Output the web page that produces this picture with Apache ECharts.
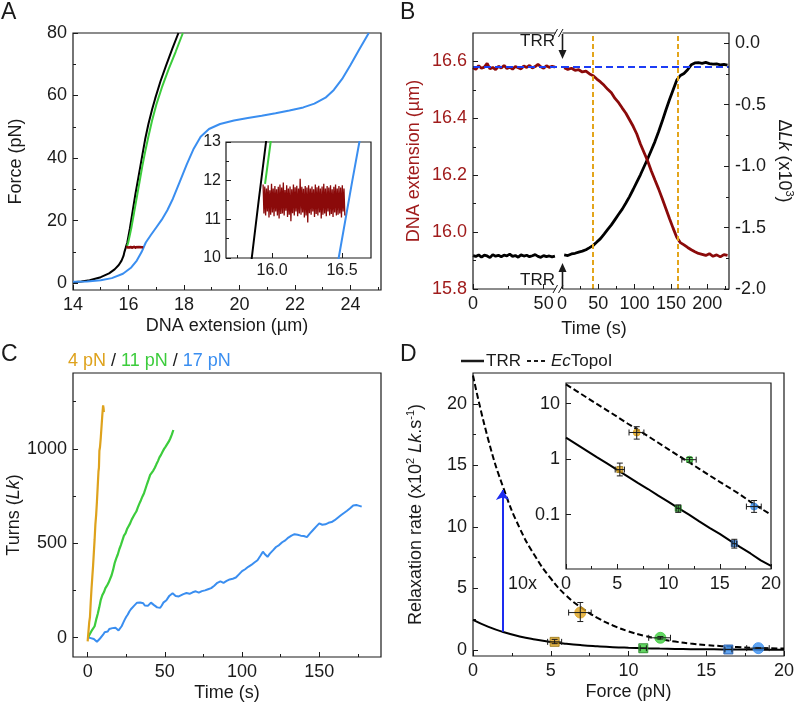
<!DOCTYPE html>
<html>
<head>
<meta charset="utf-8">
<script src="https://cdn.jsdelivr.net/npm/echarts@6/dist/echarts.min.js"></script>
<style>
html, body { margin: 0; padding: 0; background: #fff; }
#chart { width: 794px; height: 702px; }
</style>
</head>
<body>
<div id="chart"></div>
<script>
// ---- A: force / extension curves (x: um, y: pN)
var aBlack = [[14.0,0.3],[14.3,0.5],[14.6,0.9],[15.0,1.9],[15.3,3.1],[15.5,4.4],[15.65,5.8],[15.75,7.2],[15.82,8.7],[15.855,10.0],[15.905,11.5],[15.957,13.0],[16.05,17.5],[16.15,23.0],[16.25,28.5],[16.35,33.5],[16.43,37.5],[16.5,41.0],[16.6,46.0],[16.72,51.0],[16.85,55.5],[16.96,59.0],[17.15,64.5],[17.35,69.5],[17.58,75.0],[17.8,80.0]];
var aGreen = [[15.95,11.92],[15.99,13.0],[16.1,17.5],[16.2,22.5],[16.3,27.5],[16.4,32.5],[16.5,37.5],[16.6,42.0],[16.72,47.0],[16.85,52.0],[17.0,57.0],[17.2,62.5],[17.45,68.5],[17.7,74.0],[17.96,80.0]];
var aBlue = [[14.0,0.4],[14.5,0.5],[15.0,0.9],[15.4,1.6],[15.8,3.0],[16.1,5.0],[16.3,7.2],[16.476,10.0],[16.571,11.95],[16.624,13.0],[16.8,15.3],[17.0,17.8],[17.2,20.3],[17.4,23.3],[17.6,27.0],[17.85,32.5],[18.1,38.0],[18.35,43.0],[18.6,46.8],[18.9,49.3],[19.3,50.9],[19.8,52.0],[20.3,52.8],[20.8,53.5],[21.3,54.3],[21.8,55.2],[22.3,56.2],[22.7,57.4],[23.1,59.3],[23.4,61.8],[23.7,65.3],[24.0,69.8],[24.3,74.5],[24.66,80.0]];
// constant force clamp trace (pN), sampled evenly from redBandStart to redBandEnd
var redBandStart = 15.936, redBandEnd = 16.52;
var redBandForce = [11.9,11.15,11.85,11.1,11.8,11.2,11.88,11.05,11.75,11.12,11.92,11.18,11.8,11.08,11.86,11.2,11.78,11.1,11.84,11.02,11.9,11.14,11.82,11.15,11.95,11.1,11.76,11.22,11.88,11.06,11.8,11.12,11.85,10.95,11.78,11.16,11.9,11.1,11.83,11.2,11.87,11.08,11.8,11.15,12.05,11.12,11.84,11.18,11.79,11.05,11.86,11.1,11.82,10.92,11.88,11.16,11.8,11.12,11.85,11.2,11.78,11.06,11.9,11.14,11.83,11.1,11.87,11.18,11.8,11.02,11.85,11.12,11.92,11.15,11.8,11.08,11.86,11.2,11.82,11.1,11.88,11.14,11.78,11.06,11.84,11.18,11.9,11.1,11.8,11.12,11.86,11.15,11.82,11.05,11.88,11.2,11.8,11.1];

// ---- B: extension (um, left) and dLk (x10^3, right) vs time
var bSeg1Time = [0,2,4,6,8,10,12,14,16,18,20,22,24,26,28,30,32,34,36,38,40,42,44,46,48,50,52,54,56,58];
var bSeg1Ext = [16.578,16.572,16.585,16.576,16.580,16.593,16.574,16.579,16.571,16.583,16.577,16.586,16.575,16.580,16.573,16.582,16.578,16.574,16.584,16.579,16.586,16.577,16.582,16.590,16.581,16.576,16.585,16.579,16.583,16.580];
var bSeg1Lk = [-1.728,-1.735,-1.722,-1.740,-1.725,-1.731,-1.745,-1.720,-1.733,-1.726,-1.738,-1.724,-1.730,-1.716,-1.735,-1.727,-1.741,-1.722,-1.732,-1.725,-1.737,-1.729,-1.720,-1.734,-1.742,-1.728,-1.736,-1.731,-1.739,-1.733];
var bSeg2Time = [3,8,13,18,23,28,33,38,43,48,53,58,63,68,73,78,83,88,93,98,103,108,113,118,123,128,133,138,143,148,153,158,163,168,173,178,183,188,193,198,203,208,213,218,223,228];
var bSeg2Ext = [16.578,16.572,16.576,16.569,16.571,16.563,16.566,16.556,16.550,16.538,16.528,16.516,16.502,16.490,16.470,16.455,16.436,16.418,16.395,16.372,16.345,16.310,16.280,16.250,16.215,16.183,16.152,16.118,16.083,16.048,16.014,15.982,15.963,15.955,15.946,15.938,15.931,15.925,15.922,15.918,15.924,15.915,15.920,15.913,15.921,15.918];
var bSeg2Lk = [-1.722,-1.728,-1.715,-1.709,-1.700,-1.692,-1.680,-1.663,-1.645,-1.618,-1.590,-1.553,-1.515,-1.478,-1.435,-1.392,-1.350,-1.300,-1.248,-1.190,-1.130,-1.070,-1.005,-0.940,-0.870,-0.800,-0.720,-0.635,-0.545,-0.460,-0.380,-0.300,-0.262,-0.245,-0.215,-0.175,-0.160,-0.158,-0.163,-0.155,-0.165,-0.170,-0.168,-0.175,-0.172,-0.178];
var bStartLevel = 16.58;      // blue dashed reference
var bMarkTimes = [43, 159];   // orange dashed

// ---- C: turns vs time
var c4pN = [[0,-20],[0.5,30],[1,80],[1.5,110],[2,190],[2.5,260],[3,320],[3.5,380],[4,450],[4.5,520],[5,600],[5.5,650],[6,720],[6.5,800],[7,880],[7.3,900],[7.6,990],[8,1010],[8.5,1060],[9,1120],[9.5,1180],[10,1230],[10.3,1215],[10.5,1195]];
var c11pN = [[0.5,5],[1.5,20],[2.5,35],[3.5,28],[4.5,60],[5.5,95],[6.5,125],[7.5,160],[8.5,200],[9.5,225],[10.5,240],[11.5,262],[12.5,275],[13.5,290],[14.5,300],[15.5,330],[16.5,360],[17.5,395],[18.5,420],[19.5,440],[20.5,468],[21.5,490],[22.5,515],[23.5,540],[24.5,552],[25.5,575],[26.5,590],[27.5,605],[28.5,625],[29.5,640],[30.5,655],[31.5,668],[32.5,690],[33.5,710],[34.5,728],[35.5,748],[36.5,765],[37.5,790],[38.5,815],[39.5,838],[40.5,862],[41.5,870],[42.5,885],[43.5,900],[44.5,918],[45.5,935],[46.5,955],[47.5,968],[48.5,985],[49.5,1000],[50.5,1012],[51.5,1022],[52.5,1038],[53.5,1055],[54.5,1075],[55.5,1100]];
var c17pN = [[0,2],[1,0],[2,-3],[3,5],[4,-8],[5,-15],[6,-22],[7,-12],[8,-5],[9,5],[10,15],[11,28],[12,38],[13,32],[14,45],[15,42],[16,50],[17,45],[18,52],[19,42],[20,38],[21,42],[22,60],[23,78],[24,95],[25,110],[26,122],[27,138],[28,150],[29,160],[30,168],[31,172],[32,185],[33,180],[34,186],[35,178],[36,182],[37,170],[38,175],[39,168],[40,178],[41,185],[42,178],[43,172],[44,165],[45,160],[46,155],[47,158],[48,170],[49,185],[50,192],[51,198],[52,210],[53,222],[54,228],[55,235],[56,228],[57,220],[58,212],[59,218],[60,222],[62,230],[64,236],[66,232],[68,240],[70,245],[72,238],[74,246],[76,250],[78,256],[80,262],[82,275],[84,290],[86,298],[88,290],[90,300],[92,308],[94,312],[96,318],[98,335],[100,352],[102,362],[104,375],[106,385],[108,398],[110,410],[112,435],[113.5,455],[115,440],[116.5,428],[118,445],[120,462],[122,480],[124,490],[126,505],[128,515],[130,530],[132,540],[134,548],[136,545],[138,540],[140,538],[142,532],[144,552],[146,570],[148,588],[150,605],[152,598],[154,600],[156,608],[158,612],[160,622],[162,635],[164,648],[166,660],[168,672],[170,685],[172,700],[173,710],[174,702],[175,705],[176,698],[177.5,694]];

// ---- D: relaxation rate (x10^2 Lk/s) vs force (pN)
var forceGrid = [0,1,2,3,4,5,6,7,8,9,10,11,12,13,14,15,16,17,18,19,20];
var trrFit = [2.44,1.87,1.43,1.09,0.84,0.64,0.49,0.375,0.29,0.22,0.17,0.13,0.10,0.076,0.058,0.045,0.034,0.026,0.020,0.015,0.012];
var ecFit = [22.3,17.0,13.0,9.9,7.6,5.8,4.4,3.4,2.6,1.98,1.5,1.15,0.88,0.67,0.51,0.39,0.30,0.23,0.17,0.13,0.10];
// [force, rate, forceLo, forceHi, rateLo, rateHi]
var trrPts = [[5.25,0.65,4.8,5.7,0.5,0.85],[10.95,0.13,10.75,11.15,0.11,0.15],[16.42,0.03,16.2,16.65,0.025,0.036]];
var ecPts = [[6.9,3.03,6.15,7.6,2.3,3.85],[12.05,0.98,11.3,12.7,0.88,1.08],[18.35,0.14,17.6,19.05,0.11,0.18]];
var arrowForce = 1.9, arrowFrom = 1.47, arrowTo = 13.0;

var FONT = '"Liberation Sans", Arial, Helvetica, sans-serif';
var INK = '#1a1a1a';
var ORANGE = '#dea21c', GREEN = '#3ccc3c', BLUE = '#3a8ef0';
var DARKRED = '#8b0a0a', LABELRED = '#a01c1c';
var pointColors = [ORANGE, GREEN, BLUE];
var pointEdges = ['#94700e', '#1f7f1f', '#1d4f9c'];
var FS = 18;

function fix1(v) { return v.toFixed(1); }
function plain(v) { return String(v); }
function pairs(xs, ys) { return xs.map(function (x, i) { return [x, ys[i]]; }); }

function richFor(color) {
    return {
        t: {fontSize: FS, fontFamily: FONT, color: color, lineHeight: 22},
        i: {fontSize: FS, fontFamily: FONT, fontStyle: 'italic', color: color, lineHeight: 22},
        s: {fontSize: 11, fontFamily: FONT, color: color, verticalAlign: 'top', lineHeight: 13}
    };
}

var xAxes = [], yAxes = [];
// major ticks + labels, plus an overlay axis for the short minor ticks
function addAxis(list, o) {
    var color = o.color || INK;
    var isLog = o.type === 'log';
    list.push({
        type: o.type || 'value',
        gridIndex: o.grid,
        position: o.pos,
        min: o.min,
        max: o.max,
        show: o.show !== false,
        axisLine: {show: false, onZero: false},
        splitLine: {show: false},
        axisTick: {show: true, inside: true, length: 5, customValues: o.major, lineStyle: {color: INK, width: 1}},
        axisLabel: {show: true, customValues: o.major, margin: o.margin || 6, color: color,
            fontSize: o.fontSize || FS, fontFamily: FONT, formatter: o.fmt || (isLog ? null : plain),
            showMinLabel: isLog ? false : null, showMaxLabel: isLog ? false : null},
        name: o.name || '',
        nameLocation: 'middle',
        nameGap: o.nameGap || 30,
        nameRotate: o.nameRotate,
        nameTextStyle: {fontSize: FS, fontFamily: FONT, color: color, rich: richFor(color)}
    });
    var idx = list.length - 1;
    if (o.minor) {
        list.push({
            type: 'value', gridIndex: o.grid, position: o.pos, min: o.min, max: o.max,
            axisLine: {show: false, onZero: false},
            splitLine: {show: false},
            axisLabel: {show: false},
            axisTick: {show: true, inside: true, length: 3, customValues: o.minor, lineStyle: {color: INK, width: 1}}
        });
    }
    return idx;
}

function trace(data, xi, yi, color, width, extra) {
    var s = {
        type: 'line', data: data, xAxisIndex: xi, yAxisIndex: yi,
        symbol: 'none', showSymbol: false, silent: true, clip: true, z: 3,
        lineStyle: {color: color, width: width}, itemStyle: {color: color}
    };
    for (var k in extra) s[k] = extra[k];
    return s;
}

function markers(pts, xi, yi, shape, size) {
    return {
        type: 'scatter', xAxisIndex: xi, yAxisIndex: yi, symbol: shape, symbolSize: size, silent: true, z: 4,
        data: pts.map(function (p, i) {
            return {value: [p[0], p[1]], itemStyle: {color: pointColors[i],
                borderColor: shape === 'rect' ? pointEdges[i] : pointColors[i], borderWidth: 1}};
        })
    };
}

function renderErrorBar(params, api) {
    var x = api.value(0), y = api.value(1);
    var c = api.coord([x, y]);
    var xl = api.coord([api.value(2), y])[0], xh = api.coord([api.value(3), y])[0];
    var yl = api.coord([x, api.value(4)])[1], yh = api.coord([x, api.value(5)])[1];
    var cap = 3, st = {stroke: INK, lineWidth: 1};
    return {type: 'group', children: [
        {type: 'line', shape: {x1: xl, y1: c[1], x2: xh, y2: c[1]}, style: st},
        {type: 'line', shape: {x1: xl, y1: c[1] - cap, x2: xl, y2: c[1] + cap}, style: st},
        {type: 'line', shape: {x1: xh, y1: c[1] - cap, x2: xh, y2: c[1] + cap}, style: st},
        {type: 'line', shape: {x1: c[0], y1: yl, x2: c[0], y2: yh}, style: st},
        {type: 'line', shape: {x1: c[0] - cap, y1: yl, x2: c[0] + cap, y2: yl}, style: st},
        {type: 'line', shape: {x1: c[0] - cap, y1: yh, x2: c[0] + cap, y2: yh}, style: st}
    ]};
}

function errorBars(pts, xi, yi) {
    return {type: 'custom', xAxisIndex: xi, yAxisIndex: yi, silent: true, z: 5,
        data: pts, encode: {x: 0, y: 1}, renderItem: renderErrorBar};
}

// ---- grids (pixel boxes)
var frame = {show: true, borderColor: INK, borderWidth: 1.2};
function box(l, t, w, h, ext) {
    var g = {left: l, top: t, width: w, height: h, containLabel: false, outerBoundsMode: 'none'};
    for (var k in ext) g[k] = ext[k];
    return g;
}
var grids = [
    box(73, 33, 308, 257, frame),
    box(226, 142, 145, 116, {show: true, borderColor: INK, borderWidth: 1.2, backgroundColor: '#fff'}),
    box(473, 33, 89, 256, {}),
    box(562, 33, 167, 256, {}),
    box(73, 373, 308, 284, frame),
    box(473, 373, 311, 283, frame),
    box(566, 383, 205, 186, {show: true, borderColor: INK, borderWidth: 1.2, backgroundColor: '#fff'})
];

// A
var xA = addAxis(xAxes, {grid: 0, pos: 'bottom', min: 14, max: 25.1, major: [14,16,18,20,22,24], minor: [15,17,19,21,23,25],
    name: 'DNA extension (µm)', nameGap: 27});
var yA = addAxis(yAxes, {grid: 0, pos: 'left', min: -2.2, max: 80, major: [0,20,40,60,80], minor: [10,30,50,70],
    name: 'Force (pN)', nameGap: 48});
var xAi = addAxis(xAxes, {grid: 1, pos: 'bottom', min: 15.671, max: 16.707, major: [16.0,16.5], minor: [15.75,16.25],
    fontSize: 16, fmt: fix1, margin: 5});
var yAi = addAxis(yAxes, {grid: 1, pos: 'left', min: 10, max: 13, major: [10,11,12,13], minor: [10.5,11.5,12.5],
    fontSize: 16, margin: 5});
// B (broken time axis)
var xB1 = addAxis(xAxes, {grid: 2, pos: 'bottom', min: 0, max: 63, major: [0,50], minor: [25]});
var yB1e = addAxis(yAxes, {grid: 2, pos: 'left', min: 15.8, max: 16.7, major: [15.8,16.0,16.2,16.4,16.6],
    minor: [15.9,16.1,16.3,16.5], color: LABELRED, fmt: fix1, name: 'DNA extension (µm)', nameGap: 50});
var yB1k = addAxis(yAxes, {grid: 2, pos: 'right', min: -2, max: 0.084, show: false});
var xB2 = addAxis(xAxes, {grid: 3, pos: 'bottom', min: 0, max: 230, major: [0,50,100,150,200], minor: [25,75,125,175,225]});
var yB2e = addAxis(yAxes, {grid: 3, pos: 'left', min: 15.8, max: 16.7, show: false});
var yB2k = addAxis(yAxes, {grid: 3, pos: 'right', min: -2, max: 0.084, major: [-2,-1.5,-1,-0.5,0],
    minor: [-1.75,-1.25,-0.75,-0.25], fmt: fix1, name: '{t|Δ}{i|Lk}{t| (x10}{s|3}{t|)}', nameGap: 44, nameRotate: -90});
// C
var xC = addAxis(xAxes, {grid: 4, pos: 'bottom', min: -9.5, max: 190, major: [0,50,100,150], minor: [25,75,125,175],
    name: 'Time (s)', nameGap: 27});
var yC = addAxis(yAxes, {grid: 4, pos: 'left', min: -103, max: 1402, major: [0,500,1000], minor: [250,750,1250],
    name: '{t|Turns (}{i|Lk}{t|)}', nameGap: 47});
// D
var xD = addAxis(xAxes, {grid: 5, pos: 'bottom', min: 0, max: 20, major: [0,5,10,15,20], minor: [2.5,7.5,12.5,17.5],
    name: 'Force (pN)', nameGap: 27});
var yD = addAxis(yAxes, {grid: 5, pos: 'left', min: -0.5, max: 22.5, major: [0,5,10,15,20], minor: [2.5,7.5,12.5,17.5],
    name: '{t|Relaxation rate (x10}{s|2}{i| Lk}{t|.s}{s|-1}{t|)}', nameGap: 46});
var xDi = addAxis(xAxes, {grid: 6, pos: 'bottom', min: 0, max: 20, major: [0,5,10,15,20], minor: [2.5,7.5,12.5,17.5]});
var yDi = addAxis(yAxes, {grid: 6, pos: 'left', type: 'log', min: 0.0105, max: 23.6});

var redBand = redBandForce.map(function (f, i) {
    return [redBandStart + (redBandEnd - redBandStart) * i / (redBandForce.length - 1), f];
});
var trrCurve = pairs(forceGrid, trrFit);
var ecCurve = pairs(forceGrid, ecFit);
var dashed = [6, 3];

var series = [
    // A main
    trace(aBlack, xA, yA, '#000', 2),
    trace(aGreen, xA, yA, GREEN, 2),
    trace(aBlue, xA, yA, BLUE, 2),
    trace(redBand, xA, yA, DARKRED, 1.2),
    // A inset
    trace(aBlack, xAi, yAi, '#000', 2),
    trace(aGreen, xAi, yAi, GREEN, 2),
    trace(aBlue, xAi, yAi, BLUE, 2),
    trace(redBand, xAi, yAi, DARKRED, 1.3),
    // B
    trace(pairs(bSeg1Time, bSeg1Lk), xB1, yB1k, '#000', 2.8),
    trace(pairs(bSeg2Time, bSeg2Lk), xB2, yB2k, '#000', 2.8),
    trace(pairs(bSeg1Time, bSeg1Ext), xB1, yB1e, DARKRED, 2.8, {
        markLine: {silent: true, symbol: ['none', 'none'], label: {show: false},
            lineStyle: {color: '#1c3cf5', width: 2, type: [7, 4]}, data: [{yAxis: bStartLevel}]}
    }),
    trace(pairs(bSeg2Time, bSeg2Ext), xB2, yB2e, DARKRED, 2.8, {
        markLine: {silent: true, symbol: ['none', 'none'], label: {show: false}, data: [
            {yAxis: bStartLevel, lineStyle: {color: '#1c3cf5', width: 2, type: [7, 4]}},
            {xAxis: bMarkTimes[0], lineStyle: {color: '#e3a51b', width: 2, type: [5, 3]}},
            {xAxis: bMarkTimes[1], lineStyle: {color: '#e3a51b', width: 2, type: [5, 3]}}
        ]}
    }),
    // C
    trace(c17pN, xC, yC, BLUE, 2),
    trace(c11pN, xC, yC, GREEN, 2.2),
    trace(c4pN, xC, yC, ORANGE, 2.2),
    // D main
    trace(trrCurve, xD, yD, '#000', 2, {
        smooth: true,
        markLine: {silent: true, symbol: ['none', 'arrow'], symbolSize: 10, label: {show: false},
            lineStyle: {color: '#1d2cf0', width: 2, type: 'solid'},
            data: [[{coord: [arrowForce, arrowFrom]}, {coord: [arrowForce, arrowTo]}]]}
    }),
    trace(ecCurve, xD, yD, '#000', 2, {smooth: true, lineStyle: {color: '#000', width: 2, type: dashed}}),
    markers(trrPts, xD, yD, 'rect', 9),
    markers(ecPts, xD, yD, 'circle', 11),
    errorBars(trrPts, xD, yD),
    errorBars(ecPts, xD, yD),
    // D inset (log)
    trace(trrCurve, xDi, yDi, '#000', 2),
    trace(ecCurve, xDi, yDi, '#000', 2, {lineStyle: {color: '#000', width: 2, type: dashed}}),
    markers(trrPts, xDi, yDi, 'rect', 6),
    markers(ecPts, xDi, yDi, 'circle', 7),
    errorBars(trrPts, xDi, yDi),
    errorBars(ecPts, xDi, yDi)
];

function txt(text, x, y, size, ext) {
    var st = {text: text, x: 0, y: 0, fontSize: size, fontFamily: FONT, fill: INK, align: 'left', verticalAlign: 'middle'};
    for (var k in ext) st[k] = ext[k];
    return {type: 'text', x: x, y: y, z: 60, silent: true, style: st};
}
function seg(x1, y1, x2, y2, w, ext) {
    var st = {stroke: INK, lineWidth: w};
    for (var k in ext) st[k] = ext[k];
    return {type: 'line', z: 61, silent: true, shape: {x1: x1, y1: y1, x2: x2, y2: y2}, style: st};
}
function tri(points) {
    return {type: 'polygon', z: 61, silent: true, shape: {points: points}, style: {fill: INK}};
}

var graphics = [
    txt('A', 1, 13, 23), txt('B', 400, 13, 23), txt('C', 1, 355, 23), txt('D', 400, 355, 23),
    // frame of B
    {type: 'rect', z: 50, silent: true, shape: {x: 473, y: 33, width: 256, height: 256}, style: {fill: 'none', stroke: INK, lineWidth: 1.2}},
    // axis breaks
    {type: 'rect', z: 55, silent: true, shape: {x: 555.5, y: 30, width: 7, height: 6}, style: {fill: '#fff'}},
    seg(553, 37, 557.5, 29, 1), seg(558.5, 37, 563, 29, 1),
    {type: 'rect', z: 55, silent: true, shape: {x: 555.5, y: 286, width: 7, height: 6}, style: {fill: '#fff'}},
    seg(553, 293, 557.5, 285, 1), seg(558.5, 293, 563, 285, 1),
    // TRR addition arrows
    txt('TRR', 555, 41, 17, {align: 'right'}),
    seg(562.5, 34, 562.5, 52, 1.6), tri([[558.5, 50], [566.5, 50], [562.5, 59]]),
    txt('TRR', 555, 280, 17, {align: 'right'}),
    seg(562.5, 289, 562.5, 270, 1.6), tri([[558.5, 272], [566.5, 272], [562.5, 263]]),
    txt('Time (s)', 594, 329, FS, {align: 'center'}),
    // C legend
    txt('{o|4 pN}{k| / }{g|11 pN}{k| / }{b|17 pN}', 68, 361, FS, {rich: {
        o: {fill: ORANGE, fontSize: FS, fontFamily: FONT},
        g: {fill: GREEN, fontSize: FS, fontFamily: FONT},
        b: {fill: BLUE, fontSize: FS, fontFamily: FONT},
        k: {fill: INK, fontSize: FS, fontFamily: FONT}
    }}),
    // D legend
    seg(461, 361, 484, 361, 2.5),
    txt('TRR', 486, 361, 17),
    seg(527, 361, 548, 361, 2, {lineDash: [4, 3]}),
    txt('{i|Ec}{t|TopoI}', 551, 361, 17, {rich: {
        i: {fontStyle: 'italic', fill: INK, fontSize: 17, fontFamily: FONT},
        t: {fill: INK, fontSize: 17, fontFamily: FONT}
    }}),
    txt('10x', 508, 584, FS)
];

var myChart = echarts.init(document.getElementById('chart'), null, {renderer: 'canvas'});
myChart.setOption({
    animation: false,
    backgroundColor: '#fff',
    textStyle: {fontFamily: FONT},
    grid: grids,
    xAxis: xAxes,
    yAxis: yAxes,
    series: series,
    graphic: graphics
});
</script>
</body>
</html>
